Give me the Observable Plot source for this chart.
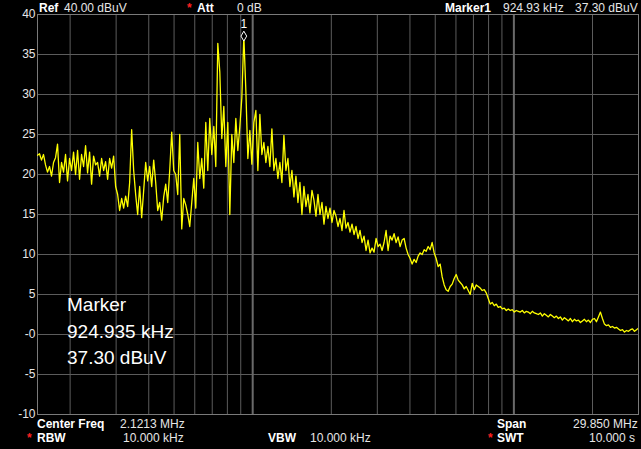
<!DOCTYPE html>
<html>
<head>
<meta charset="utf-8">
<script src="https://cdn.jsdelivr.net/npm/d3@7"></script>
<script src="https://cdn.jsdelivr.net/npm/@observablehq/plot@0.6"></script>
<style>
  html, body { margin: 0; padding: 0; background: #000; }
  #wrap { position: relative; width: 641px; height: 449px; overflow: hidden; background: #000;
          font-family: "Liberation Sans", Arial, sans-serif; }
  #wrap svg { display: block; }
  .t { position: absolute; font-size: 12px; line-height: 12px; color: #e6e6e6; white-space: pre; }
  .b { font-weight: bold; color: #fff; }
  .r { color: #ff2020; font-weight: bold; }
  .big { position: absolute; font-size: 19px; line-height: 19px; color: #fff; white-space: pre; }
</style>
</head>
<body>
<div id="wrap"></div>
<script>
// Sweep settings (log sweep)
const startMHz = 0.15;
const stopMHz = 30;
// Trace levels in dBuV, one per sweep point
const levels = [
  22.4, 22.6, 21.8, 22.5, 21.2, 20.3, 21.0, 19.8, 21.5, 22.1,
  23.8, 19.0, 21.5, 20.3, 22.5, 19.2, 22.0, 20.5, 22.8, 20.0,
  23.0, 19.4, 22.5, 21.0, 23.6, 20.2, 22.8, 18.8, 22.3, 21.2,
  21.5, 19.8, 22.0, 20.5, 21.6, 19.4, 22.0, 20.8, 22.3, 18.5,
  17.5, 15.5, 17.0, 15.8, 17.3, 16.0, 19.0, 25.6, 20.5, 17.5,
  15.0, 18.5, 14.6, 18.0, 21.5, 19.2, 21.0, 18.5, 21.8, 19.0,
  15.5, 16.5, 14.3, 17.2, 18.8, 16.5, 20.5, 25.3, 20.5, 20.0,
  17.5, 25.0, 13.2, 17.0, 16.2, 15.0, 13.5, 16.5, 19.5, 15.8,
  24.0, 19.5, 22.0, 18.3, 26.5, 20.5, 27.0, 22.5, 26.0, 21.0,
  36.4, 32.8, 24.5, 28.5, 21.0, 26.5, 15.0, 25.0, 21.5, 27.0,
  23.0, 26.0, 29.6, 37.3, 30.5, 22.0, 25.5, 21.3, 26.5, 28.0,
  20.5, 27.5, 22.5, 24.0, 21.5, 23.5, 21.0, 25.7, 20.5, 22.0,
  19.5, 21.5, 19.0, 24.9, 20.5, 22.0, 18.5, 20.5, 17.2, 19.8,
  16.5, 19.0, 15.0, 18.5, 16.0, 17.5, 15.2, 18.0, 16.8, 14.8,
  17.5, 15.0, 16.5, 13.8, 16.0, 14.5, 15.8, 14.0, 15.5, 14.8,
  13.5, 14.5, 13.0, 15.5, 13.3, 14.0, 12.8, 13.8, 12.5, 13.5,
  12.0, 13.0, 11.5, 12.3, 10.5, 11.8, 10.2, 10.8, 10.3, 12.0,
  11.0, 11.3, 10.5, 11.5, 13.0, 10.5, 12.3, 11.8, 12.6, 11.5,
  12.2, 11.0, 11.8, 12.0, 10.8, 10.0, 9.5, 8.8, 9.4, 9.0,
  9.8, 10.2, 10.0, 10.6, 10.4, 11.0, 10.6, 11.5, 10.2, 9.5,
  8.5, 8.8, 7.2, 6.2, 5.6, 5.4, 6.0, 6.3, 7.0, 7.5,
  6.8, 6.5, 6.2, 5.7, 6.0, 5.5, 5.0, 6.4, 5.6, 6.2,
  6.0, 5.8, 5.5, 5.6, 5.2, 4.5, 3.8, 4.0, 3.6, 3.8,
  3.4, 3.5, 3.2, 3.3, 3.0, 3.2, 3.0, 3.1, 2.8, 3.0,
  2.9, 2.8, 3.0, 2.7, 2.9, 2.8, 2.6, 2.9, 2.7, 2.6,
  2.5, 2.7, 2.3, 2.6, 2.4, 2.2, 2.5, 2.3, 2.1, 2.3,
  2.0, 2.2, 1.8, 2.1, 1.9, 1.7, 2.0, 1.6, 1.9, 1.7,
  1.8, 1.5, 1.7, 1.9, 1.6, 1.8, 1.5, 1.9, 2.0, 1.6,
  2.2, 2.8, 2.0, 1.3, 1.1, 1.2, 0.9, 1.0, 0.8, 0.9,
  0.7, 0.5, 0.6, 0.3, 0.5, 0.4, 0.6, 0.7, 0.4, 0.6, 0.8
];
// Axis / grid values
const yTicks = [-10, -5, 0, 5, 10, 15, 20, 25, 30, 35, 40];
const minorFreqs = [0.2, 0.3, 0.4, 0.5, 0.6, 0.7, 0.8, 0.9, 2, 3, 4, 5, 6, 7, 8, 9, 20];
const decadeFreqs = [1, 10];
const markerLabel = "1";

// Texts
const headerTexts = {
  ref: "Ref", refVal: "40.00 dBuV", att: "Att", attVal: "0 dB",
  mk: "Marker1", mkF: "924.93 kHz", mkL: "37.30 dBuV"
};
const footerTexts = {
  cf: "Center Freq", cfVal: "2.1213 MHz", span: "Span", spanVal: "29.850 MHz",
  rbw: "RBW", rbwVal: "10.000 kHz", vbw: "VBW", vbwVal: "10.000 kHz", swt: "SWT", swtVal: "10.000 s"
};
const markerBox = ["Marker", "924.935 kHz", "37.30 dBuV"];

const n = levels.length;
const trace = levels.map((v, i) => ({
  f: startMHz * Math.pow(stopMHz / startMHz, i / (n - 1)),
  v
}));
const peak = trace[d3.maxIndex(trace, d => d.v)];

const chart = Plot.plot({
  width: 641,
  height: 449,
  marginTop: 14,
  marginBottom: 35,
  marginLeft: 37,
  marginRight: 3,
  style: { background: "#000", color: "#e6e6e6", fontFamily: "Liberation Sans, Arial, sans-serif", fontSize: "12px" },
  x: { type: "log", domain: [startMHz, stopMHz], axis: null },
  y: { domain: [-10, 40], axis: null },
  marks: [
    Plot.ruleY(yTicks, { stroke: "#5c5c5c", strokeWidth: 1 }),
    Plot.ruleX(minorFreqs, { stroke: "#5c5c5c", strokeWidth: 1 }),
    Plot.ruleX(decadeFreqs, { stroke: "#6a6a6a", strokeWidth: 2 }),
    Plot.frame({ stroke: "#7a7a7a" }),
    Plot.axisY(yTicks, {
      tickSize: 0, tickPadding: 2, label: null,
      tickFormat: d => (d === 0 ? "-0" : String(d)),
      fill: "#e6e6e6", fontSize: 12
    }),
    Plot.line(trace, { x: "f", y: "v", stroke: "#ffff00", strokeWidth: 1.3, clip: true }),
    Plot.dot([peak], { x: "f", y: "v", symbol: "diamond", r: 3, stroke: "#fff", strokeWidth: 1, fill: "#000" }),
    Plot.text([peak], { x: "f", y: "v", text: () => markerLabel, dy: -12, fill: "#fff", fontSize: 12 })
  ]
});

const wrap = document.getElementById("wrap");
wrap.appendChild(chart);

function addText(txt, left, top, cls) {
  const s = document.createElement("div");
  s.className = cls;
  s.textContent = txt;
  s.style.left = left + "px";
  s.style.top = top + "px";
  wrap.appendChild(s);
  return s;
}
// header
addText(headerTexts.ref, 39, 2, "t b");
addText(headerTexts.refVal, 64, 2, "t");
addText("*", 187, 2, "t r");
addText(headerTexts.att, 197, 2, "t b");
addText(headerTexts.attVal, 237, 2, "t");
addText(headerTexts.mk, 445, 2, "t b");
addText(headerTexts.mkF, 503, 2, "t");
addText(headerTexts.mkL, 575, 2, "t");
// footer line 1
addText(footerTexts.cf, 37, 418, "t b");
addText(footerTexts.cfVal, 120, 418, "t");
addText(footerTexts.span, 497, 418, "t b");
addText(footerTexts.spanVal, 573, 418, "t");
// footer line 2
addText("*", 27, 432, "t r");
addText(footerTexts.rbw, 37, 432, "t b");
addText(footerTexts.rbwVal, 123, 432, "t");
addText(footerTexts.vbw, 268, 432, "t b");
addText(footerTexts.vbwVal, 310, 432, "t");
addText("*", 488, 432, "t r");
addText(footerTexts.swt, 497, 432, "t b");
addText(footerTexts.swtVal, 589, 432, "t");
// marker box
markerBox.forEach((s, i) => addText(s, 67, 295 + i * 26.5, "big"));
</script>
</body>
</html>
